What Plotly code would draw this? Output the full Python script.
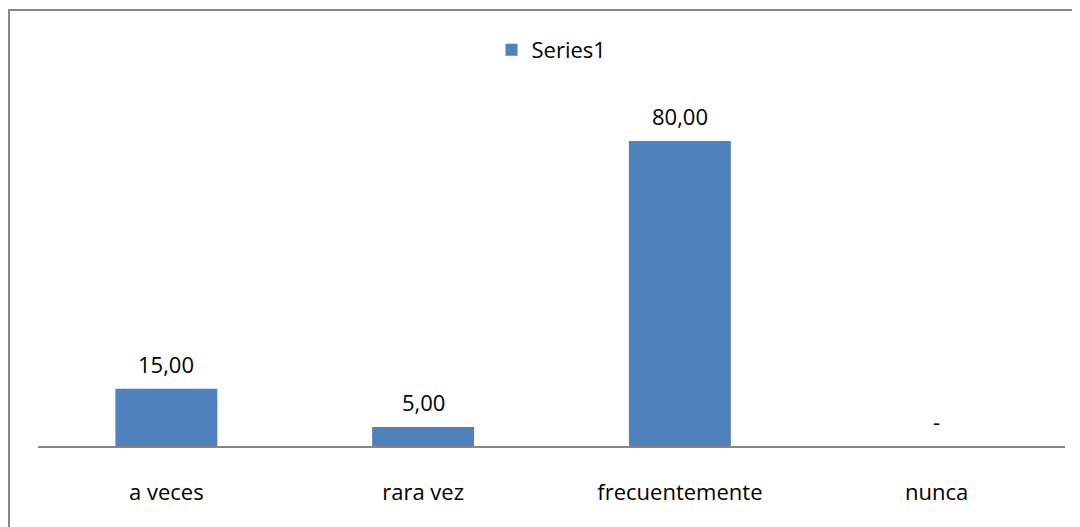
import plotly.graph_objects as go

categories = ["a veces", "rara vez", "frecuentemente", "nunca"]
values = [15.0, 5.0, 80.0, 0.0]
series_name = "Series1"

def fmt(v):
    return "-" if v == 0 else f"{v:.2f}".replace(".", ",")

labels = [fmt(v) for v in values]

W, H = 1072, 519
L, R, T, B = 30, 15, 95, 81
FONT = "Open Sans, sans-serif"
FS = 22
BAR = "#4F81BD"

fig = go.Figure()
fig.add_trace(go.Bar(x=categories, y=values, name=series_name,
                     marker=dict(color=BAR, line=dict(width=0)),
                     showlegend=True))

for c, v, t in zip(categories, values, labels):
    fig.add_annotation(x=c, y=v, text=t, showarrow=False, yanchor="middle",
                       yshift=25, font=dict(family=FONT, size=FS, color="#000000"))

pw = W - L - R
ph = H - T - B
def px(x):
    return (x - L) / pw
def py(y):
    return (H - B - y) / ph

# outer chart border (top and left visible)
fig.add_shape(type="rect", xref="paper", yref="paper",
              x0=px(1), x1=px(1095), y0=py(2), y1=py(560),
              line=dict(color="#868686", width=2), fillcolor="rgba(0,0,0,0)", layer="below")

fig.update_layout(
    width=W, height=H,
    margin=dict(l=L, r=R, t=T, b=B),
    paper_bgcolor="white", plot_bgcolor="white",
    font=dict(family=FONT, size=FS, color="#000000"),
    bargap=0.603,
    showlegend=True,
    legend=dict(orientation="h", x=0.5, xanchor="center", y=py(42), yanchor="middle",
                font=dict(family=FONT, size=FS), bgcolor="rgba(0,0,0,0)",
                itemwidth=30),
    xaxis=dict(showline=True, linecolor="#868686", linewidth=2, ticks="",
               showgrid=False, zeroline=False, ticklabelstandoff=26,
               tickfont=dict(family=FONT, size=FS)),
    yaxis=dict(range=[0, 90], visible=False, showgrid=False, zeroline=False),
)

fig.write_html("out.html")
